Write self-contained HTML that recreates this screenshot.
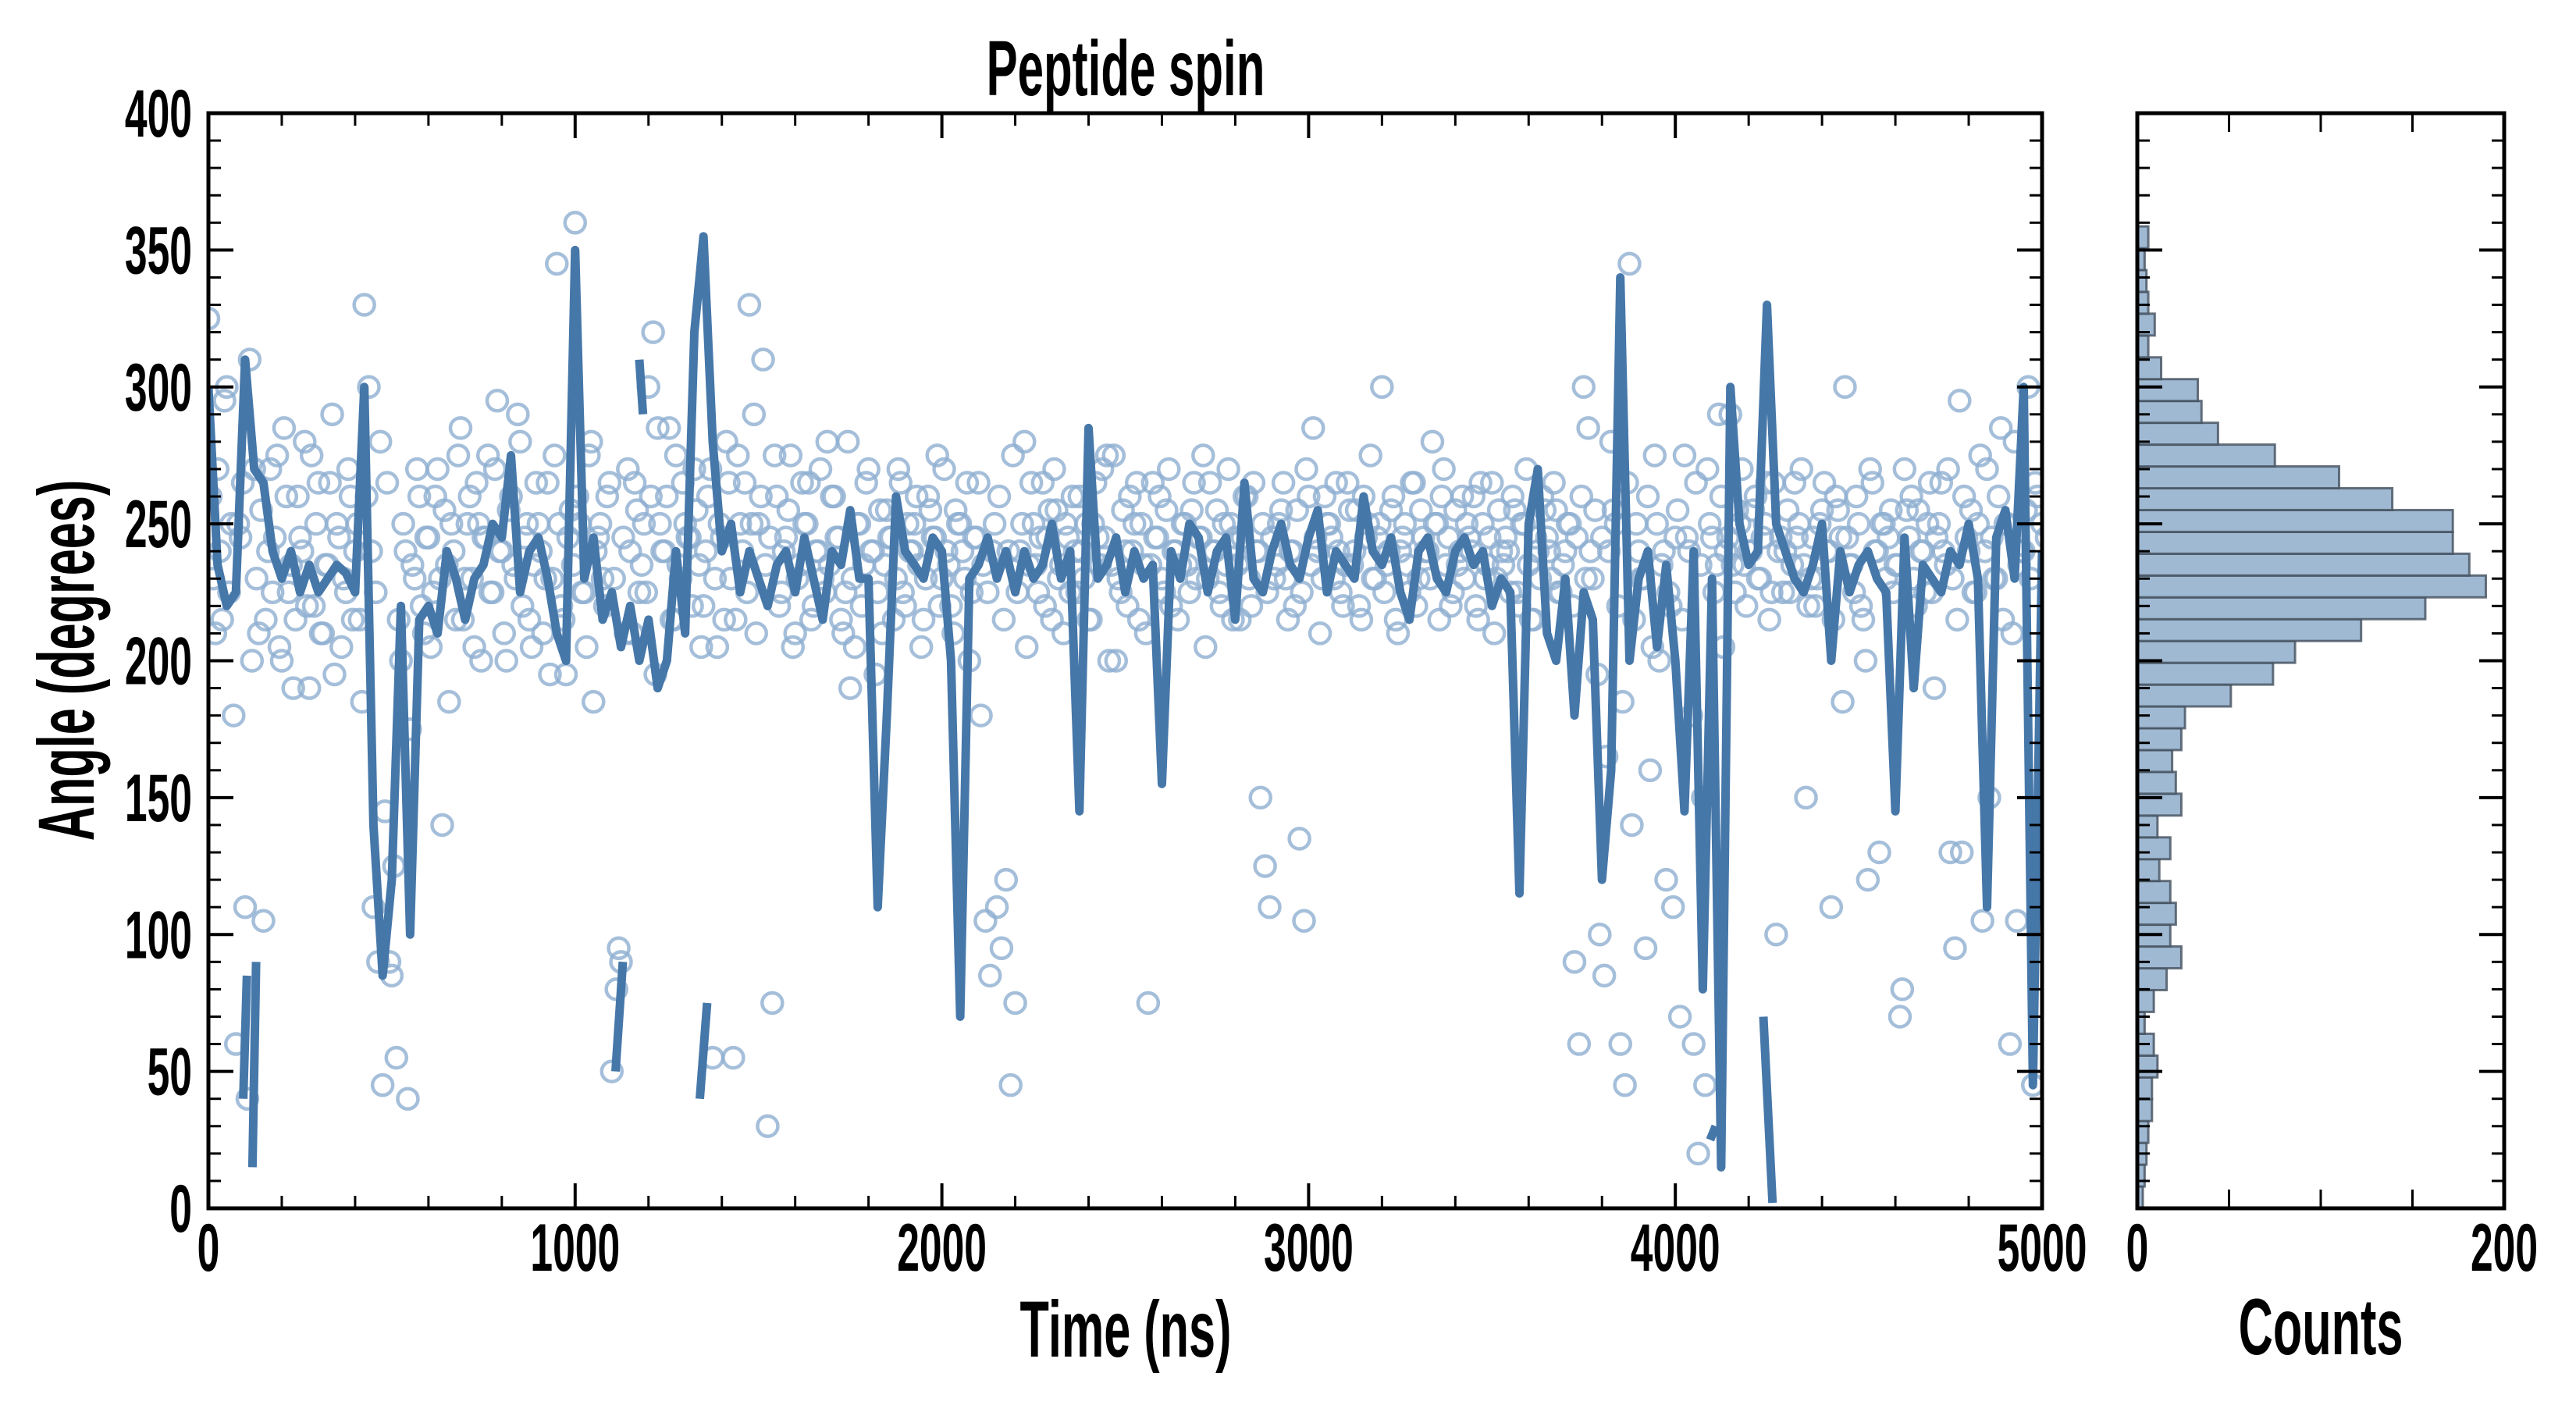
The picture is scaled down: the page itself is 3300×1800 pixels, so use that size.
<!DOCTYPE html>
<html><head><meta charset="utf-8"><style>
html,body{margin:0;padding:0;background:#fff;}
svg{display:block;}
text{font-family:"Liberation Sans",sans-serif;font-weight:bold;fill:#000;}
</style></head><body>
<svg id="chart" width="3300" height="1800" viewBox="0 0 3300 1800" xmlns="http://www.w3.org/2000/svg">
<g id="main"></g>
<g id="hist"></g>
<text x="0" y="0" font-size="100" text-anchor="middle" transform="translate(1442,122) scale(0.6,1)">Peptide spin</text>
<text x="0" y="0" font-size="102" text-anchor="middle" transform="translate(1442,1738) scale(0.6,1)">Time (ns)</text>
<text x="0" y="0" font-size="102" text-anchor="middle" transform="translate(120,846) rotate(-90) scale(0.6,1)">Angle (degrees)</text>
<text x="0" y="0" font-size="102" text-anchor="middle" transform="translate(2973,1735) scale(0.6,1)">Counts</text>
</svg>
<script>
const xTicks=[0,1000,2000,3000,4000,5000];
const yTicks=[0,50,100,150,200,250,300,350,400];
const histTicks=[0,50,100,150,200];
const histTickLabels=["0","","","","200"];
// bins from 0 degrees upward
const histCounts=[3,4,5,6,8,8,11,9,4,9,16,24,18,21,18,12,18,11,24,21,19,24,26,51,74,86,122,157,190,181,172,172,139,110,75,44,35,33,13,6,9.5,6,5,4,6];
const histBinWidth=7.97;
const lineStep=25;
const lineValues=[300,235,220,225,310,270,265,240,230,240,225,235,225,230,235,232,225,300,140,85,120,220,100,215,220,210,240,230,215,230,235,250,245,275,225,240,245,230,210,200,350,230,245,215,225,205,220,200,215,190,200,240,210,320,355,280,240,250,225,240,230,220,235,240,225,245,230,215,240,235,255,230,230,110,180,260,240,235,230,245,240,200,70,230,235,245,230,240,225,240,230,235,250,230,240,145,285,230,235,245,225,240,230,235,155,240,230,250,245,225,240,245,215,265,230,225,240,250,235,230,245,255,225,240,235,230,260,240,235,245,225,215,240,245,230,225,240,245,235,240,220,230,225,115,250,270,210,200,230,180,225,215,120,160,340,200,230,240,205,235,200,145,240,80,230,15,300,250,235,240,330,250,240,230,225,235,250,200,240,225,235,240,230,225,145,245,190,235,230,225,240,235,250,230,110,245,255,230,300,45,240];
const segTimes=[95,105,null,120,130,null,1110,1130,null,1175,1185,null,1340,1360,null,4240,4265,null,4095,4110];
const segValues=[40,85,null,15,90,null,50,90,null,310,290,null,40,75,null,70,2,null,25,30];
const scatterStep=12.5;
const scatterValues=[325,230,270,215,300,250,60,245,110,310,270,210,105,240,225,275,200,260,235,215,245,280,190,220,265,210,235,290,250,205,225,260,240,215,330,300,110,90,45,265,85,55,200,240,175,230,260,210,245,225,270,140,235,250,215,285,230,260,205,250,245,275,225,295,240,200,260,230,280,245,215,235,250,210,265,230,345,220,195,255,360,250,225,275,185,245,230,260,50,80,90,210,240,265,225,250,300,320,285,240,260,215,275,230,250,245,270,235,220,260,55,205,245,280,230,215,250,265,330,290,250,310,30,75,260,225,245,275,210,235,250,265,220,240,230,280,260,245,215,225,190,205,250,235,270,240,225,210,255,245,230,265,220,240,250,235,215,260,245,275,230,240,220,255,250,230,200,245,265,235,225,240,110,95,120,45,75,240,280,235,250,225,265,245,215,255,235,250,225,240,260,230,215,250,245,270,275,235,200,225,240,260,250,215,235,75,265,245,230,255,220,240,235,250,225,265,245,275,230,240,255,220,235,250,245,215,260,230,265,240,250,225,245,235,255,230,240,220,135,105,260,285,240,230,250,245,265,225,235,255,240,220,260,250,230,245,300,235,255,215,240,250,225,265,230,245,240,280,250,260,235,220,255,240,230,245,260,215,250,235,265,230,240,245,225,255,220,250,235,215,240,260,245,230,255,225,240,250,90,60,300,285,230,195,245,165,280,250,60,45,345,215,240,230,260,205,250,235,120,220,245,70,275,240,60,20,150,270,245,235,260,240,290,225,250,235,240,255,230,245,265,225,100,245,240,225,265,250,235,220,245,230,255,240,110,260,245,300,235,225,250,215,120,265,240,250,230,255,235,70,270,245,230,255,240,250,225,245,265,235,130,95,295,260,240,225,250,105,270,245,230,285,250,60,280,235,240,300,45,260,250,245];
const scatterValues2=[260,210,240,295,225,180,250,265,40,200,230,255,215,270,245,205,285,225,190,260,240,220,275,250,210,235,265,195,245,230,270,215,250,185,260,240,225,280,145,90,125,215,250,40,235,270,220,245,205,260,230,255,185,240,275,215,250,230,265,200,245,225,270,240,210,255,235,290,220,250,205,265,240,230,195,275,250,215,245,235,260,225,205,280,240,250,220,265,230,95,245,270,210,255,235,225,260,195,250,240,285,215,235,265,245,220,255,205,240,270,230,250,215,265,55,275,240,225,250,210,260,235,245,275,220,240,255,205,230,265,250,215,240,270,225,235,260,245,210,280,230,250,220,265,240,195,255,235,245,215,270,225,250,240,260,205,230,255,245,220,270,235,210,250,240,265,225,245,180,105,85,250,260,215,240,275,225,250,205,265,235,245,220,255,270,230,210,245,260,225,240,250,215,265,235,245,200,275,230,255,220,240,265,250,210,235,245,260,225,270,240,215,250,235,255,230,245,205,265,240,225,250,270,215,235,245,260,220,240,150,125,110,230,250,265,215,240,255,225,270,235,245,210,260,250,230,240,220,265,235,255,215,245,275,230,250,225,240,260,210,245,235,265,220,255,240,230,250,215,270,245,225,235,260,250,240,220,265,230,245,210,255,235,240,260,225,250,270,215,245,230,255,240,265,225,235,250,220,245,260,230,240,255,100,85,240,255,220,185,265,140,250,230,95,160,275,200,240,225,110,255,215,245,180,265,235,45,250,225,290,205,245,235,255,270,220,240,260,230,250,215,265,240,225,255,235,245,270,150,230,220,250,265,240,215,255,185,245,235,260,220,200,270,240,130,250,245,225,235,80,255,260,220,240,225,265,190,250,240,270,230,215,130,245,255,225,275,240,150,230,260,215,250,210,105,240,255,230,265];

const SVGNS="http://www.w3.org/2000/svg";
function mk(tag,attrs,parent){const e=document.createElementNS(SVGNS,tag);for(const k in attrs)e.setAttribute(k,attrs[k]);parent.appendChild(e);return e;}
const X0=267,X1=2616,Y0=1548,Y1=145;
const sx=t=>X0+(t/5000)*(X1-X0);
const sy=v=>Y0-(v/400)*(Y0-Y1);
const H0=2738,H1=3208;
const hx=c=>H0+(c/200)*(H1-H0);
const main=document.getElementById('main');
const hist=document.getElementById('hist');

const defs=mk('defs',{},main);
const cp=mk('clipPath',{id:'clipMain'},defs);
mk('rect',{x:X0,y:Y1,width:X1-X0,height:Y0-Y1},cp);

const sg=mk('g',{'clip-path':'url(#clipMain)'},main);


function drawPts(arr,offset){
  arr.forEach((v,i)=>{
    const c=mk('circle',{cx:sx(offset+i*scatterStep),cy:sy(v),r:13,fill:'none',stroke:'#8fafd1','stroke-width':4.5,'stroke-opacity':0.8},sg);
    
    
  });
}
drawPts(scatterValues,0);
drawPts(scatterValues2,6.25);

let d='';
lineValues.forEach((v,i)=>{d+=(i?'L':'M')+sx(i*lineStep).toFixed(1)+','+sy(v).toFixed(1);});
const ln=mk('path',{d:d,fill:'none',stroke:'#4677a9','stroke-width':11,'stroke-linejoin':'round','clip-path':'url(#clipMain)'},main);


let d2='',pen=false;
segTimes.forEach((t,i)=>{if(t===null){pen=false;return;}d2+=(pen?'L':'M')+sx(t).toFixed(1)+','+sy(segValues[i]).toFixed(1);pen=true;});
const ln2=mk('path',{d:d2,fill:'none',stroke:'#4677a9','stroke-width':11,'clip-path':'url(#clipMain)'},main);



const tg=mk('g',{stroke:'#000'},main);


for(let t=0;t<=5000;t+=200){const maj=t%1000===0;const L=maj?32:16;
  mk('line',{x1:sx(t),x2:sx(t),y1:Y0,y2:Y0-L,'stroke-width':maj?4:3},tg);
  mk('line',{x1:sx(t),x2:sx(t),y1:Y1,y2:Y1+L,'stroke-width':maj?4:3},tg);}
for(let v=0;v<=400;v+=10){const maj=v%50===0;const L=maj?32:16;
  mk('line',{x1:X0,x2:X0+L,y1:sy(v),y2:sy(v),'stroke-width':maj?4:3},tg);
  mk('line',{x1:X1,x2:X1-L,y1:sy(v),y2:sy(v),'stroke-width':maj?4:3},tg);}
const fr=mk('rect',{x:X0,y:Y1,width:X1-X0,height:Y0-Y1,fill:'none',stroke:'#000','stroke-width':5},main);


xTicks.forEach(t=>{const tx=mk('text',{x:0,y:0,'font-size':86,'text-anchor':'middle',transform:`translate(${sx(t)},${Y0+80}) scale(0.6,1)`},main);tx.textContent=t;
  
  });
yTicks.forEach(v=>{const tx=mk('text',{x:0,y:0,'font-size':86,'text-anchor':'end',transform:`translate(246,${sy(v)+30}) scale(0.6,1)`},main);tx.textContent=v;
  
  });

histCounts.forEach((c,i)=>{const vTop=(i+1)*histBinWidth,vBot=i*histBinWidth;
  const r=mk('rect',{x:H0,y:sy(vTop),width:hx(c)-H0,height:sy(vBot)-sy(vTop),fill:'#a0b9d3',stroke:'#44505e','stroke-opacity':0.8,'stroke-width':3},hist);
  
  });
const hg=mk('g',{stroke:'#000'},hist);


for(let v=0;v<=400;v+=10){const maj=v%50===0;const L=maj?32:16;
  mk('line',{x1:H0,x2:H0+L,y1:sy(v),y2:sy(v),'stroke-width':maj?4:3},hg);
  mk('line',{x1:H1,x2:H1-L,y1:sy(v),y2:sy(v),'stroke-width':maj?4:3},hg);}
histTicks.forEach(c=>{mk('line',{x1:hx(c),x2:hx(c),y1:Y0,y2:Y0-24,'stroke-width':3},hg);mk('line',{x1:hx(c),x2:hx(c),y1:Y1,y2:Y1+24,'stroke-width':3},hg);});
const hf=mk('rect',{x:H0,y:Y1,width:H1-H0,height:Y0-Y1,fill:'none',stroke:'#000','stroke-width':5},hist);


histTicks.forEach((c,i)=>{if(!histTickLabels[i])return;const tx=mk('text',{x:0,y:0,'font-size':86,'text-anchor':'middle',transform:`translate(${hx(c)},${Y0+80}) scale(0.6,1)`},hist);tx.textContent=histTickLabels[i];
  
  });
</script>
</body></html>
